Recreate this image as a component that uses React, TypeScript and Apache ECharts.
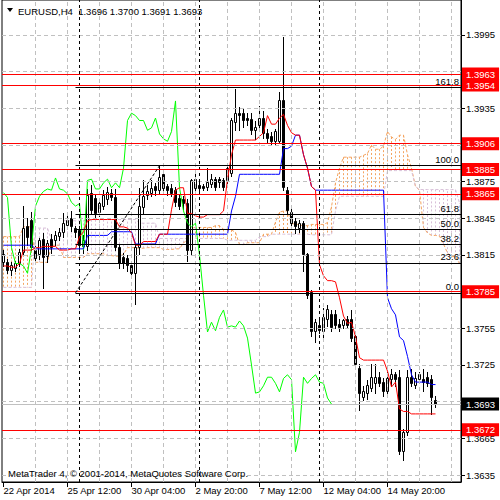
import React, { useEffect, useRef } from "react";
import * as echarts from "echarts";

// ---- H4 candles, EURUSD (bar 0 = 22 Apr 2014 20:00) ----
const openP = [
  1.3809, 1.3809, 1.3802, 1.3804, 1.3808, 1.3817, 1.3838, 1.3843, 1.3819, 1.3815,
  1.3828, 1.3814, 1.3828, 1.3827, 1.3830, 1.3833, 1.3839, 1.3845, 1.3837, 1.3835,
  1.3822, 1.3822, 1.3865, 1.3861, 1.3850, 1.3855, 1.3860, 1.3865, 1.3862, 1.3821,
  1.3813, 1.3812, 1.3806, 1.3800, 1.3821, 1.3854, 1.3864, 1.3865, 1.3871, 1.3868,
  1.3881, 1.3871, 1.3869, 1.3868, 1.3861, 1.3860, 1.3857, 1.3819, 1.3869, 1.3872,
  1.3871, 1.3870, 1.3873, 1.3877, 1.3877, 1.3876, 1.3876, 1.3882, 1.3923, 1.3931,
  1.3931, 1.3927, 1.3926, 1.3917, 1.3921, 1.3927, 1.3914, 1.3912, 1.3908, 1.3908,
  1.3941, 1.3868, 1.3850, 1.3842, 1.3837, 1.3841, 1.3815, 1.3784, 1.3752, 1.3757,
  1.3752, 1.3762, 1.3766, 1.3766, 1.3758, 1.3757, 1.3762, 1.3762, 1.3748, 1.3722,
  1.3698, 1.3702, 1.3706, 1.3710, 1.3715, 1.3711, 1.3703, 1.3713, 1.3717, 1.3715,
  1.3654, 1.3670, 1.3715, 1.3708, 1.3713, 1.3713, 1.3715, 1.3713, 1.3696,
];
const highP = [
  1.3819, 1.3812, 1.3809, 1.3810, 1.3820, 1.3855, 1.3845, 1.3850, 1.3822, 1.3829,
  1.3833, 1.3827, 1.3832, 1.3835, 1.3837, 1.3849, 1.3847, 1.3851, 1.3839, 1.3839,
  1.3831, 1.3869, 1.3872, 1.3865, 1.3861, 1.3868, 1.3871, 1.3869, 1.3869, 1.3824,
  1.3817, 1.3815, 1.3809, 1.3824, 1.3870, 1.3876, 1.3872, 1.3876, 1.3874, 1.3888,
  1.3884, 1.3873, 1.3873, 1.3871, 1.3865, 1.3863, 1.3861, 1.3877, 1.3881, 1.3876,
  1.3873, 1.3886, 1.3881, 1.3879, 1.3879, 1.3878, 1.3888, 1.3927, 1.3951, 1.3936,
  1.3935, 1.3931, 1.3931, 1.3925, 1.3937, 1.3933, 1.3918, 1.3916, 1.3918, 1.3948,
  1.3993, 1.3871, 1.3853, 1.3845, 1.3844, 1.3843, 1.3817, 1.3786, 1.3763, 1.3762,
  1.3772, 1.3774, 1.3770, 1.3770, 1.3763, 1.3763, 1.3765, 1.3770, 1.3751, 1.3726,
  1.3708, 1.3713, 1.3726, 1.3726, 1.3719, 1.3714, 1.3719, 1.3722, 1.3719, 1.3721,
  1.3673, 1.3721, 1.3722, 1.3719, 1.3719, 1.3722, 1.3719, 1.3717, 1.3700,
];
const lowP = [
  1.3806, 1.3800, 1.3799, 1.3802, 1.3806, 1.3815, 1.3823, 1.3819, 1.3809, 1.3812,
  1.3788, 1.3809, 1.3817, 1.3823, 1.3827, 1.3830, 1.3837, 1.3835, 1.3830, 1.3819,
  1.3817, 1.3819, 1.3849, 1.3845, 1.3847, 1.3853, 1.3857, 1.3860, 1.3819, 1.3804,
  1.3804, 1.3802, 1.3797, 1.3775, 1.3816, 1.3849, 1.3861, 1.3863, 1.3864, 1.3865,
  1.3866, 1.3864, 1.3863, 1.3855, 1.3853, 1.3853, 1.3810, 1.3816, 1.3868, 1.3866,
  1.3868, 1.3868, 1.3871, 1.3868, 1.3871, 1.3868, 1.3873, 1.3880, 1.3917, 1.3917,
  1.3920, 1.3921, 1.3914, 1.3910, 1.3918, 1.3911, 1.3907, 1.3906, 1.3906, 1.3907,
  1.3868, 1.3849, 1.3838, 1.3833, 1.3834, 1.3802, 1.3780, 1.3749, 1.3744, 1.3751,
  1.3745, 1.3757, 1.3753, 1.3755, 1.3753, 1.3755, 1.3755, 1.3745, 1.3722, 1.3688,
  1.3696, 1.3697, 1.3704, 1.3702, 1.3708, 1.3700, 1.3700, 1.3708, 1.3708, 1.3652,
  1.3647, 1.3668, 1.3708, 1.3706, 1.3710, 1.3704, 1.3708, 1.3685, 1.3691,
];
const closeP = [
  1.3815, 1.3802, 1.3806, 1.3808, 1.3817, 1.3837, 1.3829, 1.3821, 1.3812, 1.3827,
  1.3813, 1.3824, 1.3821, 1.3831, 1.3833, 1.3841, 1.3843, 1.3838, 1.3833, 1.3823,
  1.3827, 1.3864, 1.3851, 1.3849, 1.3857, 1.3864, 1.3866, 1.3862, 1.3821, 1.3808,
  1.3808, 1.3806, 1.3800, 1.3821, 1.3855, 1.3863, 1.3867, 1.3869, 1.3868, 1.3878,
  1.3869, 1.3868, 1.3865, 1.3858, 1.3855, 1.3857, 1.3819, 1.3876, 1.3877, 1.3869,
  1.3869, 1.3874, 1.3877, 1.3870, 1.3874, 1.3870, 1.3886, 1.3925, 1.3931, 1.3929,
  1.3925, 1.3925, 1.3917, 1.3919, 1.3927, 1.3914, 1.3910, 1.3908, 1.3916, 1.3941,
  1.3870, 1.3851, 1.3841, 1.3838, 1.3841, 1.3815, 1.3782, 1.3752, 1.3760, 1.3753,
  1.3764, 1.3770, 1.3756, 1.3757, 1.3756, 1.3761, 1.3757, 1.3747, 1.3725, 1.3702,
  1.3703, 1.3708, 1.3715, 1.3715, 1.3710, 1.3703, 1.3714, 1.3717, 1.3713, 1.3654,
  1.3670, 1.3715, 1.3710, 1.3714, 1.3717, 1.3711, 1.3710, 1.3698, 1.3693,
];

// ---- Ichimoku lines ----
const tenkan = [
  1.3806, 1.3806, 1.3805, 1.3805, 1.3808, 1.3819, 1.3819, 1.3819, 1.3821, 1.3821,
  1.3822, 1.3822, 1.3822, 1.3822, 1.3819, 1.3819, 1.3819, 1.3820, 1.3820, 1.3830,
  1.3834, 1.3843, 1.3844, 1.3844, 1.3844, 1.3844, 1.3844, 1.3844, 1.3844, 1.3838,
  1.3838, 1.3837, 1.3833, 1.3823, 1.3823, 1.3826, 1.3826, 1.3826, 1.3826, 1.3832,
  1.3832, 1.3832, 1.3852, 1.3868, 1.3870, 1.3870, 1.3849, 1.3849, 1.3847, 1.3846,
  1.3846, 1.3848, 1.3848, 1.3848, 1.3848, 1.3851, 1.3877, 1.3897, 1.3909, 1.3909,
  1.3909, 1.3909, 1.3909, 1.3909, 1.3912, 1.3915, 1.3929, 1.3922, 1.3922, 1.3927,
  1.3930, 1.3921, 1.3915, 1.3913, 1.3913, 1.3897, 1.3886, 1.3871, 1.3868, 1.3807,
  1.3798, 1.3794, 1.3794, 1.3793, 1.3780, 1.3765, 1.3759, 1.3760, 1.3748, 1.3731,
  1.3729, 1.3729, 1.3729, 1.3729, 1.3729, 1.3729, 1.3720, 1.3707, 1.3711, 1.3689,
  1.3687, 1.3687, 1.3685, 1.3685, 1.3685, 1.3685, 1.3685, 1.3685, 1.3685,
];
const kijun = [
  1.3823, 1.3823, 1.3823, 1.3823, 1.3823, 1.3823, 1.3823, 1.3823, 1.3820, 1.3820,
  1.3820, 1.3820, 1.3820, 1.3820, 1.3820, 1.3820, 1.3820, 1.3820, 1.3820, 1.3820,
  1.3820, 1.3831, 1.3831, 1.3831, 1.3831, 1.3831, 1.3831, 1.3834, 1.3834, 1.3834,
  1.3834, 1.3834, 1.3834, 1.3824, 1.3824, 1.3824, 1.3824, 1.3824, 1.3824, 1.3832,
  1.3832, 1.3832, 1.3832, 1.3832, 1.3832, 1.3832, 1.3832, 1.3832, 1.3832, 1.3832,
  1.3832, 1.3832, 1.3832, 1.3832, 1.3832, 1.3832, 1.3832, 1.3851, 1.3863, 1.3881,
  1.3881, 1.3881, 1.3881, 1.3881, 1.3881, 1.3881, 1.3881, 1.3881, 1.3881, 1.3881,
  1.3902, 1.3902, 1.3904, 1.3913, 1.3913, 1.3897, 1.3886, 1.3871, 1.3868, 1.3868,
  1.3868, 1.3868, 1.3868, 1.3868, 1.3868, 1.3868, 1.3868, 1.3868, 1.3868, 1.3868,
  1.3868, 1.3868, 1.3868, 1.3868, 1.3868, 1.3868, 1.3780, 1.3771, 1.3766, 1.3748,
  1.3745, 1.3732, 1.3717, 1.3711, 1.3711, 1.3711, 1.3711, 1.3709, 1.3709,
];
// cloud spans, already shifted 26 bars forward (index 0..114)
const spanA = [
  1.3830, 1.3830, 1.3830, 1.3830, 1.3830, 1.3838, 1.3838, 1.3838, 1.3809, 1.3809,
  1.3809, 1.3809, 1.3823, 1.3823, 1.3823, 1.3813, 1.3813, 1.3813, 1.3813, 1.3813,
  1.3813, 1.3816, 1.3816, 1.3816, 1.3816, 1.3816, 1.38145, 1.38145, 1.3814, 1.3814,
  1.38155, 1.3821, 1.3821, 1.3821, 1.38205, 1.38205, 1.3821, 1.3821, 1.3821, 1.3821,
  1.38195, 1.38195, 1.38195, 1.3820, 1.3820, 1.3825, 1.3827, 1.3837, 1.38375, 1.38375,
  1.38375, 1.38375, 1.38375, 1.3839, 1.3839, 1.3836, 1.3836, 1.38355, 1.38335, 1.38235,
  1.38235, 1.3825, 1.3825, 1.3825, 1.3825, 1.3832, 1.3832, 1.3832, 1.3842, 1.3850,
  1.3851, 1.3851, 1.38405, 1.38405, 1.38395, 1.3839, 1.3839, 1.3840, 1.3840, 1.3840,
  1.3840, 1.38415, 1.38545, 1.3874, 1.3886, 1.3895, 1.3895, 1.3895, 1.3895, 1.3895,
  1.38965, 1.3898, 1.3905, 1.39015, 1.39015, 1.3904, 1.3916, 1.39115, 1.39095, 1.3913,
  1.3913, 1.3897, 1.3886, 1.3871, 1.3868, 1.38375, 1.3833, 1.3831, 1.3831, 1.38305,
  1.3824, 1.38165, 1.38135, 1.3814, 1.3808,
];
const spanB = [
  1.37885, 1.37885, 1.37885, 1.37885, 1.37885, 1.37885, 1.37885, 1.37885, 1.3837, 1.3837,
  1.3837, 1.3837, 1.3827, 1.3827, 1.3827, 1.3843, 1.3843, 1.3843, 1.3843, 1.3843,
  1.3843, 1.3844, 1.3844, 1.3844, 1.3844, 1.3844, 1.3844, 1.3844, 1.3844, 1.3844,
  1.3844, 1.3844, 1.3844, 1.3844, 1.3841, 1.3841, 1.3841, 1.3841, 1.3841, 1.38285,
  1.38285, 1.38285, 1.38285, 1.38285, 1.38285, 1.38285, 1.38285, 1.38285, 1.38285, 1.38285,
  1.38285, 1.38285, 1.38285, 1.38285, 1.38285, 1.38285, 1.3827, 1.3827, 1.3827, 1.3827,
  1.3827, 1.3827, 1.3827, 1.3827, 1.3830, 1.3830, 1.3830, 1.3832, 1.3832, 1.3832,
  1.3832, 1.3832, 1.3832, 1.3832, 1.3832, 1.3832, 1.3832, 1.38315, 1.38315, 1.38315,
  1.38315, 1.38315, 1.38315, 1.3851, 1.3863, 1.3863, 1.3863, 1.3863, 1.3863, 1.3863,
  1.3863, 1.3863, 1.3863, 1.3863, 1.3863, 1.3863, 1.3884, 1.3884, 1.3884, 1.3884,
  1.3884, 1.3884, 1.3884, 1.3871, 1.38685, 1.38685, 1.38685, 1.38685, 1.38685, 1.38685,
  1.38685, 1.38685, 1.38685, 1.38685, 1.38575,
];
const chikouShift = 26;

// ---- axes ----
const priceTicks = [1.3635, 1.3665, 1.3695, 1.3725, 1.3755, 1.3785, 1.3815, 1.3845, 1.3875, 1.3905, 1.3935, 1.3965, 1.3995];
// labels that stay visible (the others sit under the price-tag boxes)
const priceLabels = [1.3635, 1.3665, 1.3725, 1.3755, 1.3815, 1.3845, 1.3875, 1.3935, 1.3995];
const timeTickBars = [0, 16, 32, 48, 64, 80, 96];
const timeTickLabels = ["22 Apr 2014", "25 Apr 12:00", "30 Apr 04:00", "2 May 20:00", "7 May 12:00", "12 May 04:00", "14 May 20:00"];
const gridBars = [8, 16, 24, 32, 40, 48, 56, 64, 72, 80, 88, 96, 104, 112];
const weekStartBars = [19, 49, 79];

// ---- objects ----
const redLevels = [1.3963, 1.3954, 1.3906, 1.3885, 1.3865, 1.3785, 1.3672];
const bidPrice = 1.3693;
const fibNames = ["0.0", "23.6", "38.2", "50.0", "61.8", "100.0", "161.8"];
const fibPrices = [1.3784, 1.38085, 1.38237, 1.3836, 1.38483, 1.3888, 1.39523];
const fibAnchorBars = [18, 39];
const fibAnchorPrices = [1.3784, 1.3888];

const titleText = "EURUSD,H4  1.3696 1.3700 1.3691 1.3693";
const copyrightText = "MetaTrader 4, \u00a9 2001-2014, MetaQuotes Software Corp.";

const X_MIN = -0.375;
const X_MAX = 114.375;
const Y_MIN = 1.3995 - 448 / 12250;
const Y_MAX = 1.3995 + 35 / 12250;
const FONT = '"Liberation Sans", Arial, sans-serif';
const FS = 9.5;

export default function App() {
  const ref = useRef<HTMLDivElement>(null);
  useEffect(() => {
    document.body.style.margin = "0";
    const chart = echarts.init(ref.current as HTMLDivElement, null, { renderer: "svg" });
    const candleData = closeP.map((c, i) => [i, openP[i], highP[i], lowP[i], c]);
    const cloudData = spanA.map((a, j) => [j, a, spanB[j]]);
    const xy = (arr: number[]) => arr.map((v, i) => [i, v]);
    const chikou = closeP.slice(chikouShift).map((c, k) => [k, c]);
    const snap = (v: number) => Math.round(v - 0.5) + 0.5;

    const option: any = {
      animation: false,
      backgroundColor: "#ffffff",
      grid: { left: 2, right: 39, top: -1, bottom: 18, show: true, borderColor: "#000", borderWidth: 1, backgroundColor: "transparent" },
      xAxis: {
        type: "value", min: X_MIN, max: X_MAX,
        axisLine: { show: true, onZero: false, lineStyle: { color: "#000", width: 1 } },
        axisTick: { show: true, customValues: timeTickBars, length: 5, lineStyle: { color: "#000" } },
        axisLabel: {
          customValues: timeTickBars,
          formatter: (v: number) => timeTickLabels[timeTickBars.indexOf(Math.round(v))] || "",
          align: "left", margin: 3, color: "#000", fontFamily: FONT, fontSize: FS,
        },
        splitLine: { show: false },
      },
      yAxis: {
        type: "value", position: "right", min: Y_MIN, max: Y_MAX,
        axisLine: { show: true, onZero: false, lineStyle: { color: "#000", width: 1 } },
        axisTick: { show: true, customValues: priceTicks, length: 4, lineStyle: { color: "#000" } },
        axisLabel: {
          customValues: priceLabels, formatter: (v: number) => v.toFixed(4),
          margin: 5, color: "#000", fontFamily: FONT, fontSize: FS,
        },
        splitLine: { show: false },
      },
      graphic: [
        { type: "polygon", z: 100, shape: { points: [[7, 8], [13, 8], [10, 12]] }, style: { fill: "#000" } },
        { type: "text", z: 100, x: 18, y: 11, style: { text: titleText, fill: "#000", fontFamily: FONT, fontSize: FS, verticalAlign: "middle" } },
        { type: "text", z: 100, x: 8, y: 473, style: { text: copyrightText, fill: "#000", fontFamily: FONT, fontSize: FS, verticalAlign: "middle" } },
      ],
      series: [
        {
          type: "line", data: [], silent: true, z: 1,
          markLine: {
            silent: true, symbol: "none", precision: 5, label: { show: false },
            lineStyle: { color: "#c0c0c0", type: [4, 3], width: 1 },
            data: [...priceTicks.map((v) => ({ yAxis: v })), ...gridBars.map((v) => ({ xAxis: v }))],
          },
        },
        {
          type: "line", data: [], silent: true, z: 2,
          markLine: {
            silent: true, symbol: "none", precision: 5, label: { show: false },
            lineStyle: { color: "#000", type: [3, 3], width: 1 },
            data: weekStartBars.map((v) => ({ xAxis: v })),
          },
        },
        {
          type: "line", data: [], silent: true, z: 2,
          markLine: {
            silent: true, symbol: "none", precision: 5,
            lineStyle: { color: "#c0c0c0", type: "solid", width: 1 },
            label: { show: true, position: "end", distance: 1, formatter: (p: any) => Number(p.value).toFixed(4), color: "#fff", backgroundColor: "#000", padding: [2, 4, 1, 4], fontFamily: FONT, fontSize: FS },
            data: [{ yAxis: bidPrice }],
          },
        },
        {
          type: "custom", z: 2, silent: true, data: cloudData,
          encode: { x: 0, y: [1, 2] },
          renderItem: (_p: any, api: any) => {
            const j = api.value(0), a = api.value(1), b = api.value(2);
            const p1 = api.coord([j, a]);
            const p2 = api.coord([j, b]);
            return {
              type: "line",
              shape: { x1: snap(p1[0]), y1: p1[1], x2: snap(p1[0]), y2: p2[1] },
              style: { stroke: a >= b ? "#f4a460" : "#d8bfd8", lineWidth: 1, lineDash: [2, 2] },
            };
          },
        },
        { type: "line", z: 2, silent: true, data: xy(spanA), symbol: "none", lineStyle: { color: "#f4a460", width: 1, type: [3, 2] } },
        { type: "line", z: 2, silent: true, data: xy(spanB), symbol: "none", lineStyle: { color: "#d8bfd8", width: 1, type: [3, 2] } },
        {
          type: "custom", z: 3, silent: true, data: candleData,
          encode: { x: 0, y: [1, 2, 3, 4] },
          renderItem: (_p: any, api: any) => {
            const i = api.value(0), o = api.value(1), h = api.value(2), l = api.value(3), c = api.value(4);
            const pH = api.coord([i, h]);
            const pL = api.coord([i, l]);
            const pO = api.coord([i, o]);
            const pC = api.coord([i, c]);
            const x = snap(pH[0]);
            let top = snap(Math.min(pO[1], pC[1]));
            let bot = snap(Math.max(pO[1], pC[1]));
            if (bot - top < 1) bot = top + 1;
            const bull = c >= o;
            return {
              type: "group",
              children: [
                { type: "line", shape: { x1: x, y1: Math.round(pH[1]), x2: x, y2: Math.round(pL[1]) + 1 }, style: { stroke: "#000", lineWidth: 1 } },
                { type: "rect", shape: { x: x - 1, y: top, width: 2, height: bot - top }, style: { fill: bull ? "#fff" : "#000", stroke: "#000", lineWidth: 1 } },
              ],
            };
          },
        },
        { type: "line", z: 4, silent: true, data: chikou, symbol: "none", lineStyle: { color: "#00ff00", width: 1 } },
        { type: "line", z: 4, silent: true, data: xy(kijun), symbol: "none", lineStyle: { color: "#0000ff", width: 1 } },
        { type: "line", z: 4, silent: true, data: xy(tenkan), symbol: "none", lineStyle: { color: "#ff0000", width: 1 } },
        {
          type: "line", z: 5, silent: true, symbol: "none",
          data: fibAnchorBars.map((b, k) => [b, fibAnchorPrices[k]]),
          lineStyle: { color: "#000", width: 1, type: [3, 2] },
          markLine: {
            silent: true, symbol: "none", precision: 5,
            lineStyle: { color: "#000", width: 1, type: "solid" },
            label: { show: true, position: "insideEndTop", distance: [2, 1], formatter: (p: any) => p.name, color: "#000", fontFamily: FONT, fontSize: FS },
            data: fibPrices.map((v, k) => [
              { name: fibNames[k], coord: [fibAnchorBars[0], v] },
              { coord: [X_MAX, v] },
            ]),
          },
        },
        {
          type: "line", data: [], silent: true, z: 6,
          markLine: {
            silent: true, symbol: "none", precision: 5,
            lineStyle: { color: "#ff0000", type: "solid", width: 1 },
            label: { show: true, position: "end", distance: 1, formatter: (p: any) => Number(p.value).toFixed(4), color: "#fff", backgroundColor: "#ff0000", padding: [2, 4, 1, 4], fontFamily: FONT, fontSize: FS },
            data: redLevels.map((v) => ({ yAxis: v })),
          },
        },
      ],
    };
    chart.setOption(option);
    return () => chart.dispose();
  }, []);
  return <div ref={ref} style={{ position: "fixed", left: 0, top: 0, width: 500, height: 500, background: "#fff" }} />;
}
